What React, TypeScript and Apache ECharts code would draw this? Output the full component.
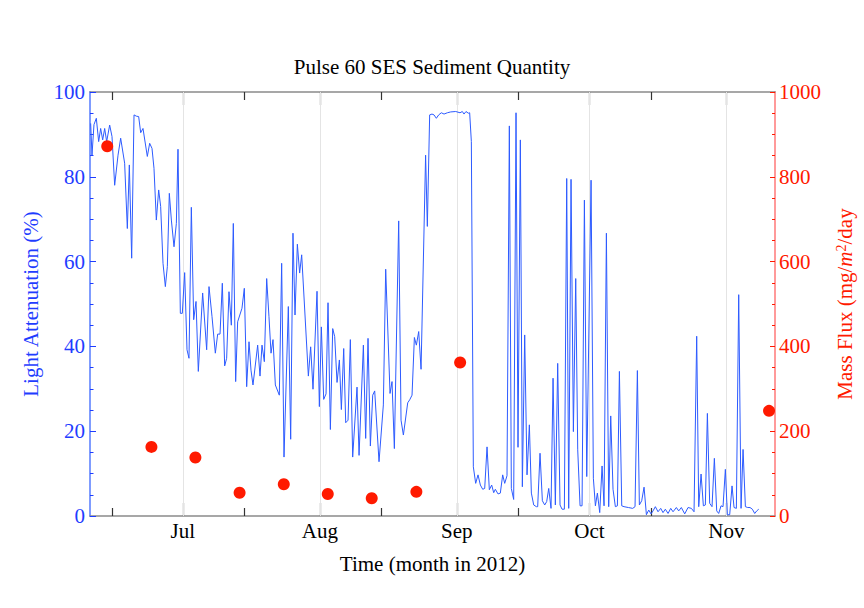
import React, { useEffect, useRef } from "react";
import * as echarts from "echarts";

// ---- Data ----
const START_DATE = "2012-06-10";
const END_DATE = "2012-11-12";
const monthTickDates = ["2012-07-01", "2012-08-01", "2012-09-01", "2012-10-01", "2012-11-01"];
const midMonthTickDates = ["2012-06-15", "2012-07-15", "2012-08-15", "2012-09-15", "2012-10-15"];
const monthNames = ["Jan", "Feb", "Mar", "Apr", "May", "Jun", "Jul", "Aug", "Sep", "Oct", "Nov", "Dec"];

// [days since START_DATE, light attenuation %]
const attenuationReadings: [number, number][] = [
  [0.15, 92.6], [0.45, 85.1], [0.9, 92.3], [1.43, 93.8], [1.96, 88.3], [2.41, 91.4], [2.87, 88.7],
  [3.32, 91.4], [3.77, 88.3], [4.45, 92.2], [4.98, 89.5], [5.58, 78.0], [6.34, 85.1], [6.94, 89.1],
  [7.84, 83.2], [8.45, 67.8], [8.9, 82.8], [9.43, 60.8], [9.96, 94.6], [10.48, 94.3], [11.01, 94.2],
  [11.47, 90.4], [11.99, 91.4], [12.97, 84.8], [13.5, 87.9], [14.03, 86.7], [14.48, 82.0], [15.01, 69.8],
  [15.54, 76.9], [15.99, 73.0], [16.52, 59.6], [17.05, 54.1], [17.5, 58.8], [17.95, 76.1], [18.41, 69.8],
  [19.01, 63.5], [19.54, 69.0], [19.91, 86.5], [20.44, 47.8], [20.89, 47.8], [21.42, 57.4], [21.95, 39.2],
  [22.4, 37.2], [22.93, 72.8], [23.46, 46.3], [23.99, 50.6], [24.51, 34.1],
  [25.49, 52.6], [26.4, 39.2], [26.93, 54.1], [27.61, 47.0], [28.36, 38.4], [28.89, 42.9], [29.42, 42.9],
  [29.94, 54.9], [30.47, 35.4], [30.92, 37.2], [31.45, 52.9], [31.98, 45.0], [32.43, 69.0], [32.96, 31.7],
  [33.41, 45.8], [34.39, 49.0], [34.92, 53.7], [35.45, 30.5], [35.98, 41.1], [36.43, 34.4], [36.88, 30.9],
  [37.94, 40.3], [38.47, 33.0], [38.92, 40.3], [39.45, 36.4], [39.98, 56.0], [40.5, 47.0], [40.96, 38.4],
  [41.41, 41.6], [41.94, 30.9], [42.84, 28.5], [43.37, 59.6], [43.9, 13.9], [44.88, 49.4], [45.41, 18.1],
  [45.93, 66.7], [46.39, 47.4], [46.92, 64.1], [47.44, 57.3], [47.9, 61.6], [49.41, 33.0], [49.93, 39.9],
  [50.46, 29.9],
  [51.37, 53.0], [51.9, 25.8], [52.35, 44.6], [52.88, 27.5], [53.41, 28.8], [53.86, 50.3], [54.39, 20.4],
  [54.92, 44.2], [55.37, 42.3], [55.9, 31.5], [56.43, 36.8], [56.88, 25.1], [57.41, 39.5], [57.86, 22.0],
  [58.39, 22.6], [58.91, 41.6], [59.44, 13.9], [60.42, 30.4], [60.88, 14.3], [61.86, 40.3], [62.38, 18.3],
  [62.91, 41.9], [63.44, 16.5], [63.97, 28.5], [64.42, 29.5], [65.4, 12.8], [66.38, 26.2], [66.91, 58.2],
  [67.89, 28.9], [68.34, 31.7], [68.87, 15.9], [69.85, 69.6], [70.38, 22.6], [70.91, 19.1], [71.89, 26.7],
  [72.34, 27.4], [72.87, 28.5], [73.4, 42.1], [73.85, 40.3], [74.38, 43.5], [74.91, 34.6], [75.94, 85.1],
  [76.33, 68.3],
  [76.86, 94.6], [77.39, 94.8], [77.84, 94.6], [78.37, 93.8], [78.9, 94.6], [79.5, 95.1], [80.11, 94.8],
  [80.86, 95.1], [81.61, 95.3], [82.75, 95.4], [83.73, 95.1], [84.25, 95.4], [84.63, 94.8], [85.08, 95.4],
  [85.61, 95.0], [85.91, 95.1], [86.29, 88.3], [86.74, 11.6], [87.27, 7.7], [87.8, 9.7], [88.33, 7.3],
  [88.86, 6.3], [89.31, 6.5], [89.84, 16.3], [90.36, 6.2], [90.89, 7.3], [91.35, 5.5], [91.72, 6.3],
  [92.33, 5.2], [92.85, 5.4], [93.38, 9.7], [93.84, 7.7], [94.36, 9.5], [94.89, 92.0], [95.34, 6.5],
  [95.87, 3.9], [96.4, 95.1], [96.85, 16.2], [97.38, 88.7], [97.83, 6.9], [98.36, 42.7], [98.89, 9.7],
  [99.42, 21.5], [99.87, 5.4], [100.4, 2.6], [101.0, 2.2], [101.3, 2.2],
  [101.83, 14.8], [102.36, 3.6], [102.89, 2.6], [103.34, 3.4], [103.8, 6.5], [104.32, 1.8], [104.78, 32.5],
  [105.3, 2.6], [105.83, 36.0], [106.36, 2.6], [106.81, 1.6], [107.34, 1.6], [107.87, 79.6], [108.32, 1.8],
  [108.85, 79.4], [109.38, 19.9], [109.91, 56.0], [110.36, 15.6], [110.89, 2.4], [111.34, 2.4], [111.87, 74.5],
  [112.4, 9.3], [113.38, 79.2], [113.9, 8.9], [114.36, 2.4], [114.81, 5.4], [115.34, 0.8], [115.87, 11.8],
  [116.32, 2.4], [116.85, 66.7], [117.37, 2.2], [117.83, 23.6], [118.35, 6.3], [118.88, 2.2], [119.34, 2.4],
  [119.79, 34.1], [120.32, 2.4], [120.84, 2.2], [121.82, 2.0], [122.8, 1.8], [123.33, 2.2], [123.86, 34.3],
  [124.31, 2.6], [124.84, 3.6], [125.37, 6.8], [125.9, 0.3], [126.43, 1.4], [126.95, 0.5],
  [127.4, 1.2], [127.93, 2.2], [128.53, 1.0], [129.14, 1.8], [129.66, 0.8], [130.19, 1.6], [130.8, 0.6],
  [131.4, 1.8], [131.93, 1.0], [132.68, 2.0], [133.21, 1.2], [133.81, 2.0], [134.57, 0.5], [135.32, 2.0],
  [136.08, 1.8], [136.68, 1.0], [137.28, 42.4], [137.74, 2.2], [138.27, 9.9], [138.79, 2.4], [139.24, 2.6],
  [139.7, 24.2], [140.22, 3.0], [140.75, 2.2], [141.28, 13.6], [141.81, 1.2], [142.26, 0.6], [142.79, 2.4],
  [143.24, 2.2], [143.77, 11.0], [144.22, 0.3], [144.75, 0.3], [145.28, 7.1], [145.73, 2.0], [146.26, 1.8],
  [146.79, 52.2], [147.32, 1.8], [147.77, 15.7], [148.3, 2.2], [148.83, 2.0], [149.35, 2.0], [149.88, 1.6],
  [150.41, 0.6], [150.86, 1.2], [151.32, 1.6],
];

// Mass flux samples: days since START_DATE, mg/m^2/day
const fluxDays = [3.9, 13.9, 23.85, 33.85, 43.85, 53.8, 63.75, 73.85, 83.75, 153.65];
const fluxValues = [872, 163, 138, 55, 75, 52, 42, 57, 362, 248];

const leftTicks = { min: 0, max: 100, interval: 20 };
const rightTicks = { min: 0, max: 1000, interval: 200 };

const FONT = "'Liberation Serif', 'DejaVu Serif', 'Times New Roman', serif";
const FS = 21;
const BLUE = "#1f3dff";
const RED = "#ff1a00";

export default function App() {
  const ref = useRef<HTMLDivElement>(null);

  useEffect(() => {
    if (!ref.current) return;
    const chart = echarts.init(ref.current, undefined, { renderer: "svg" });
    const DAY = 86400000;
    const t0 = Date.parse(START_DATE);
    const t1 = Date.parse(END_DATE);
    const monthTicks = monthTickDates.map((d) => Date.parse(d));
    const midTicks = midMonthTickDates.map((d) => Date.parse(d));

    const frameLine = { show: true, onZero: false, lineStyle: { color: "#8a8a8a", width: 1.5 } };
    const tickLine = { color: "#333", width: 1.2 };
    const xBase: any = { type: "value", min: t0, max: t1, splitLine: { show: false } };

    const option: any = {
      animation: false,
      backgroundColor: "#fff",
      title: {
        text: "Pulse 60 SES Sediment Quantity",
        left: "center",
        top: 51,
        textStyle: { fontFamily: FONT, fontSize: FS, fontWeight: "normal", color: "#000" },
      },
      grid: { left: 90, right: 89, top: 92, bottom: 92, containLabel: false },
      xAxis: [
        {
          ...xBase,
          position: "bottom",
          axisLine: frameLine,
          axisTick: { show: true, inside: true, length: 13, customValues: monthTicks, lineStyle: tickLine },
          axisLabel: {
            show: true,
            customValues: monthTicks,
            formatter: (v: number) => monthNames[new Date(v).getUTCMonth()],
            color: "#000",
            fontFamily: FONT,
            fontSize: FS,
            margin: 4,
          },
          name: "Time (month in 2012)",
          nameLocation: "middle",
          nameGap: 37,
          nameTextStyle: { fontFamily: FONT, fontSize: FS, color: "#000" },
        },
        {
          ...xBase,
          position: "top",
          axisLine: frameLine,
          axisTick: { show: true, inside: true, length: 13, customValues: monthTicks, lineStyle: tickLine },
          axisLabel: { show: false },
        },
        {
          ...xBase,
          position: "bottom",
          axisLine: { show: false, onZero: false },
          axisTick: { show: true, inside: true, length: 8, customValues: midTicks, lineStyle: tickLine },
          axisLabel: { show: false },
        },
        {
          ...xBase,
          position: "top",
          axisLine: { show: false, onZero: false },
          axisTick: { show: true, inside: true, length: 8, customValues: midTicks, lineStyle: tickLine },
          axisLabel: { show: false },
        },
      ],
      yAxis: [
        {
          type: "value",
          position: "left",
          min: leftTicks.min,
          max: leftTicks.max,
          interval: leftTicks.interval,
          axisLine: { show: true, onZero: false, lineStyle: { color: "#7f9cff", width: 2 } },
          axisTick: { show: true, inside: true, length: 6, lineStyle: { color: BLUE, width: 1 } },
          minorTick: { show: true, splitNumber: 4, length: 3.5, lineStyle: { color: BLUE, width: 1 } },
          splitLine: { show: false },
          axisLabel: { color: BLUE, fontFamily: FONT, fontSize: FS, margin: 5 },
          name: "Light Attenuation (%)",
          nameLocation: "middle",
          nameRotate: 90,
          nameGap: 49,
          nameTextStyle: { color: BLUE, fontFamily: FONT, fontSize: FS },
        },
        {
          type: "value",
          position: "right",
          min: rightTicks.min,
          max: rightTicks.max,
          interval: rightTicks.interval,
          axisLine: { show: true, onZero: false, lineStyle: { color: "#ff9a9a", width: 2 } },
          axisTick: { show: true, inside: true, length: 5, lineStyle: { color: RED, width: 1 } },
          minorTick: { show: true, splitNumber: 4, length: 3, lineStyle: { color: RED, width: 1 } },
          splitLine: { show: false },
          axisLabel: { color: RED, fontFamily: FONT, fontSize: FS, margin: 4, formatter: (v: number) => String(v) },
          name: "Mass Flux (mg/{it|m}{sup|2}/day",
          nameLocation: "middle",
          nameRotate: 90,
          nameGap: 59,
          nameTextStyle: {
            color: RED,
            fontFamily: FONT,
            fontSize: FS,
            rich: {
              it: { color: RED, fontFamily: FONT, fontSize: FS, fontStyle: "italic" },
              sup: { color: RED, fontFamily: FONT, fontSize: 14, verticalAlign: "top" },
            },
          },
        },
      ],
      series: [
        {
          type: "line",
          name: "Light Attenuation",
          xAxisIndex: 0,
          yAxisIndex: 0,
          data: attenuationReadings.map(([d, v]) => [t0 + d * DAY, v]),
          showSymbol: false,
          symbol: "none",
          lineStyle: { color: "#2d5bff", width: 1 },
          z: 3,
          markLine: {
            silent: true,
            z: 1,
            symbol: ["none", "none"],
            label: { show: false },
            lineStyle: { color: "#e4e4e4", type: "solid", width: 1 },
            data: monthTicks.map((v) => ({ xAxis: v })),
          },
        },
        {
          type: "scatter",
          name: "Mass Flux",
          xAxisIndex: 0,
          yAxisIndex: 1,
          data: fluxDays.map((d, i) => [t0 + d * DAY, fluxValues[i]]),
          symbolSize: 12,
          itemStyle: { color: RED, opacity: 1 },
          z: 4,
        },
      ],
    };

    chart.setOption(option);
    return () => chart.dispose();
  }, []);

  return (
    <div
      ref={ref}
      style={{ position: "fixed", left: 0, top: 0, width: 864, height: 608, background: "#fff" }}
    />
  );
}
